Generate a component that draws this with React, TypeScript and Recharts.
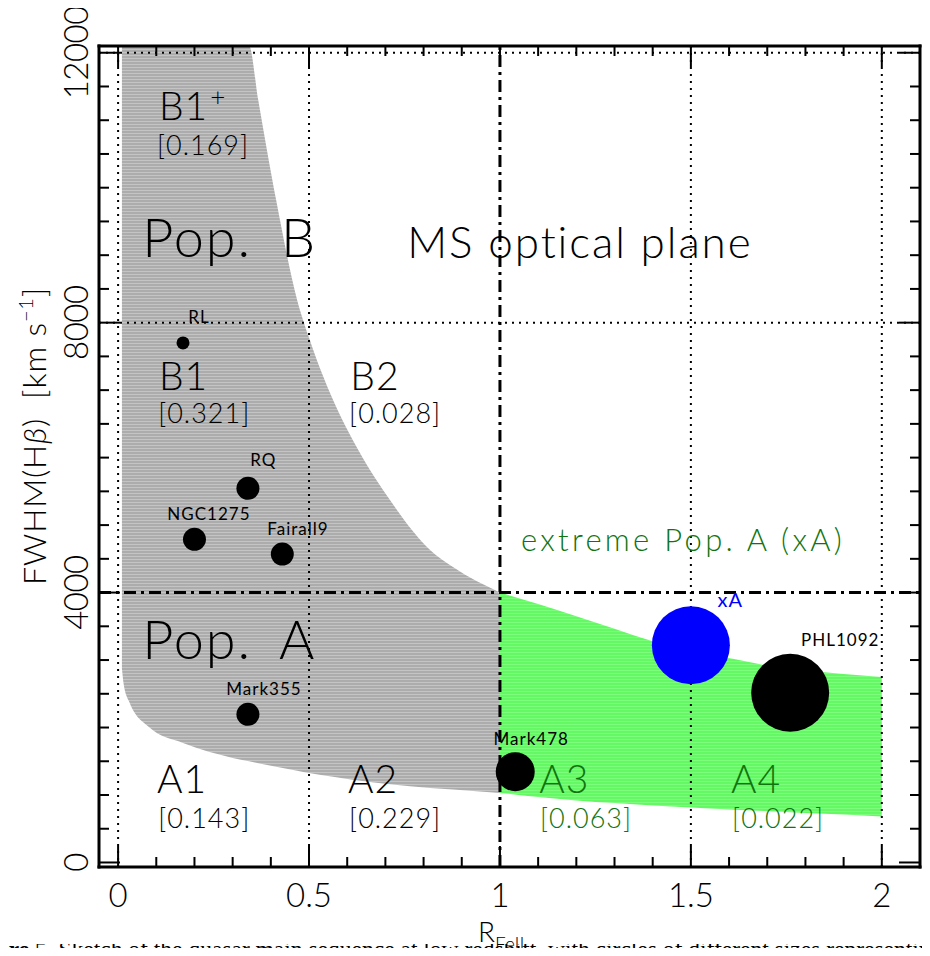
import React from 'react';
import { ComposedChart, Area, Scatter, XAxis, YAxis, ReferenceLine } from 'recharts';

// ---------------- data ----------------
const xTicks = [0, 0.1, 0.2, 0.3, 0.4, 0.5, 0.6, 0.7, 0.8, 0.9, 1, 1.1, 1.2, 1.3, 1.4, 1.5, 1.6, 1.7, 1.8, 1.9, 2];
const xLabelTicks = [0, 0.5, 1, 1.5, 2];
const xTickLabels = ['0', '0.5', '1', '1.5', '2'];
const yTicks = [0, 500, 1000, 1500, 2000, 2500, 3000, 3500, 4000, 4500, 5000, 5500, 6000, 6500, 7000, 7500, 8000, 8500, 9000, 9500, 10000, 10500, 11000, 11500, 12000];
const yLabelTicks = [0, 4000, 8000, 12000];
const yTickLabels = ['0', '4000', '8000', '12000'];

const xDomain = [-0.05, 2.1];
const yDomain = [-67, 12100];

// grey (Pop. B / Pop. A main-sequence) band
const grayX = [0.01, 0.015, 0.03, 0.08, 0.17, 0.3, 0.343, 0.367, 0.414, 0.469, 0.5, 0.563, 0.629, 0.712, 0.817, 0.877, 1.0];
const grayLow = [2880, 2630, 2370, 2010, 1770, 1550, 1500, 1470, 1420, 1360, 1326, 1270, 1215, 1160, 1105, 1080, 1030];
const grayHigh = [12100, 12100, 12100, 12100, 12100, 12100, 12100, 11300, 9815, 8333, 7775, 6852, 6111, 5370, 4630, 4378, 4000];

// green (extreme Pop. A) band
const greenX = [1.0, 1.1, 1.2, 1.3, 1.4, 1.5, 1.6, 1.7, 1.8, 1.9, 2.0];
const greenLow = [1030, 970, 920, 880, 845, 815, 785, 760, 735, 710, 680];
const greenHigh = [4000, 3830, 3650, 3465, 3280, 3140, 3030, 2920, 2845, 2795, 2750];

// sources
const pointNames = ['RL', 'RQ', 'NGC1275', 'Fairall9', 'Mark355', 'Mark478', 'xA', 'PHL1092'];
const pointX = [0.17, 0.34, 0.2, 0.43, 0.34, 1.04, 1.5, 1.76];
const pointY = [7700, 5545, 4790, 4570, 2195, 1345, 3220, 2515];
const pointRadius = [6.5, 11.5, 11.5, 11.5, 11.5, 19.5, 39, 39];
const nameX = [0.212, 0.38, 0.238, 0.471, 0.382, 1.082, 1.603, 1.891];
const nameY = [7993, 5874, 5074, 4852, 2481, 1741, 3785, 3207];

// region annotations
const regionText = ['B1⁺', '[0.169]', 'Pop. B', 'MS optical plane', 'B1', '[0.321]', 'B2', '[0.028]', 'extreme Pop. A (xA)', 'Pop. A', 'A1', '[0.143]', 'A2', '[0.229]', 'A3', '[0.063]', 'A4', '[0.022]'];
const regionX = [0.107, 0.102, 0.063, 0.757, 0.107, 0.105, 0.608, 0.605, 1.055, 0.063, 0.102, 0.105, 0.602, 0.605, 1.103, 1.105, 1.605, 1.608];
const regionY = [11000, 10481, 8970, 8956, 7000, 6511, 7000, 6511, 4615, 3015, 1030, 511, 1030, 511, 1030, 511, 1030, 511];
const regionKind = ['name', 'frac', 'pop', 'title', 'name', 'frac', 'name', 'frac', 'xa', 'pop', 'name', 'frac', 'name', 'frac', 'nameG', 'fracG', 'nameG', 'fracG'];

// ---------------- styles ----------------
const SANS = "Lato, 'DejaVu Sans', sans-serif";
const GREEN_TEXT = '#107510';
const labelStyles: Record<string, any> = {
  name: { fontSize: 39, letterSpacing: 1, wordSpacing: 0, fill: '#000' },
  frac: { fontSize: 27, letterSpacing: 1, wordSpacing: 0, fill: '#000' },
  pop: { fontSize: 54, letterSpacing: 2, wordSpacing: 12, fill: '#000' },
  title: { fontSize: 44, letterSpacing: 1.9, wordSpacing: 0, fill: '#000' },
  xa: { fontSize: 31, letterSpacing: 3.3, wordSpacing: 0, fill: GREEN_TEXT },
  nameG: { fontSize: 39, letterSpacing: 1, wordSpacing: 0, fill: GREEN_TEXT },
  fracG: { fontSize: 27, letterSpacing: 1, wordSpacing: 0, fill: GREEN_TEXT },
};
const pointFill: Record<string, string> = { xA: '#0000ff' };
const nameFill: Record<string, string> = { xA: '#0000ff' };
const nameSize: Record<string, number> = { xA: 20 };

const axisLineStyle = { stroke: '#000', strokeWidth: 3, strokeLinecap: 'square' as const };
const TICK_MAJOR = 21;
const TICK_MINOR = 10;
const tickFont = { fontFamily: SANS, fontSize: 33, fontWeight: 300, fill: '#000' };

const BottomTick = (p: any) => {
  const i = xLabelTicks.indexOf(p.payload.value);
  const len = i >= 0 ? TICK_MAJOR : TICK_MINOR;
  return (
    <g>
      <line x1={p.x} x2={p.x} y1={p.y} y2={p.y - len} stroke="#000" strokeWidth={2} />
      {i >= 0 && (
        <text x={p.x} y={p.y + 40} textAnchor="middle" {...tickFont}>{xTickLabels[i]}</text>
      )}
    </g>
  );
};
const TopTick = (p: any) => {
  const i = xLabelTicks.indexOf(p.payload.value);
  const len = i >= 0 ? TICK_MAJOR : TICK_MINOR;
  return <line x1={p.x} x2={p.x} y1={p.y} y2={p.y + len} stroke="#000" strokeWidth={2} />;
};
const LeftTick = (p: any) => {
  const i = yLabelTicks.indexOf(p.payload.value);
  const len = i >= 0 ? TICK_MAJOR : TICK_MINOR;
  const bx = p.x - 11;
  return (
    <g>
      <line x1={p.x} x2={p.x + len} y1={p.y} y2={p.y} stroke="#000" strokeWidth={2} />
      {i >= 0 && (
        <text transform={`translate(${bx},${p.y}) rotate(-90)`} textAnchor="middle" letterSpacing={-0.5} {...tickFont}>{yTickLabels[i]}</text>
      )}
    </g>
  );
};
const RightTick = (p: any) => {
  const i = yLabelTicks.indexOf(p.payload.value);
  const len = i >= 0 ? TICK_MAJOR : TICK_MINOR;
  return <line x1={p.x} x2={p.x - len} y1={p.y} y2={p.y} stroke="#000" strokeWidth={2} />;
};

const renderCircle = (p: any) => (
  <circle cx={p.cx} cy={p.cy} r={p.payload.r} fill={pointFill[p.payload.name] || '#000'} />
);

const renderName = (p: any) => (
  <text
    x={p.cx}
    y={p.cy}
    textAnchor="middle"
    fontFamily={SANS}
    fontSize={nameSize[p.payload.name] || 17}
    letterSpacing={1}
    fill={nameFill[p.payload.name] || '#000'}
  >
    {p.payload.name}
  </text>
);

const renderRegion = (p: any) => {
  const st = labelStyles[p.payload.kind];
  const t: string = p.payload.text;
  const sup = t.endsWith('⁺');
  return (
    <text
      x={p.cx}
      y={p.cy}
      textAnchor="start"
      fontFamily={SANS}
      fontWeight={300}
      fontSize={st.fontSize}
      letterSpacing={st.letterSpacing}
      wordSpacing={st.wordSpacing}
      fill={st.fill}
    >
      {sup ? t.slice(0, -1) : t}
      {sup && (
        <tspan dy={-14} dx={2} fontSize={26}>+</tspan>
      )}
    </text>
  );
};

const dotted = { stroke: '#000', strokeWidth: 2, strokeDasharray: '2 5' };
const dashDot = { stroke: '#000', strokeWidth: 3, strokeDasharray: '12 5 3 5' };

export default function App() {
  const grayData = grayX.map((x, i) => ({ x, band: [grayLow[i], grayHigh[i]] }));
  const greenData = greenX.map((x, i) => ({ x, band: [greenLow[i], greenHigh[i]] }));
  const pointData = pointNames.map((name, i) => ({ name, x: pointX[i], y: pointY[i], r: pointRadius[i] }));
  const nameData = pointNames.map((name, i) => ({ name, x: nameX[i], y: nameY[i] }));
  const regionData = regionText.map((text, i) => ({ text, x: regionX[i], y: regionY[i], kind: regionKind[i] }));

  const ids = { xAxisId: 'b', yAxisId: 'l' };

  return (
    <div style={{ position: 'relative', width: 922, height: 940 }}>
      <style>{`svg{overflow:visible !important} .recharts-wrapper{overflow:visible !important}`}</style>
      <ComposedChart width={922} height={948} margin={{ top: 0, right: 0, bottom: 0, left: 0 }} data={grayData}>
        <defs>
          <pattern id="grayStripes" patternUnits="userSpaceOnUse" width={8} height={3}>
            <rect width={8} height={3} fill="#acacac" />
            <rect y={2} width={8} height={1} fill="#c4c4c4" />
          </pattern>
          <pattern id="greenStripes" patternUnits="userSpaceOnUse" width={8} height={3}>
            <rect width={8} height={3} fill="#64f864" />
            <rect y={2} width={8} height={1} fill="#7cfd7c" />
          </pattern>
        </defs>
        <XAxis xAxisId="b" dataKey="x" type="number" domain={xDomain} ticks={xTicks} interval={0} allowDataOverflow
          orientation="bottom" height={89} tickSize={0} tickMargin={0} tickLine={false} axisLine={axisLineStyle}
          tick={(p: any) => <BottomTick {...p} />} />
        <XAxis xAxisId="t" dataKey="x" type="number" domain={xDomain} ticks={xTicks} interval={0} allowDataOverflow
          orientation="top" height={38} tickSize={0} tickMargin={0} tickLine={false} axisLine={axisLineStyle}
          tick={(p: any) => <TopTick {...p} />} />
        <YAxis yAxisId="l" type="number" domain={yDomain} ticks={yTicks} interval={0} allowDataOverflow
          orientation="left" width={91} tickSize={0} tickMargin={0} tickLine={false} axisLine={axisLineStyle}
          tick={(p: any) => <LeftTick {...p} />} />
        <YAxis yAxisId="r" type="number" domain={yDomain} ticks={yTicks} interval={0} allowDataOverflow
          orientation="right" width={10} tickSize={0} tickMargin={0} tickLine={false} axisLine={axisLineStyle}
          tick={(p: any) => <RightTick {...p} />} />

        <Area {...ids} data={grayData} dataKey="band" type="monotone" fill="url(#grayStripes)" fillOpacity={1}
          stroke="none" isAnimationActive={false} activeDot={false} dot={false} />
        <Area {...ids} data={greenData} dataKey="band" type="monotone" fill="url(#greenStripes)" fillOpacity={1}
          stroke="none" isAnimationActive={false} activeDot={false} dot={false} />

        <ReferenceLine {...ids} x={0} {...dotted} />
        <ReferenceLine {...ids} x={0.5} {...dotted} />
        <ReferenceLine {...ids} x={1.5} {...dotted} />
        <ReferenceLine {...ids} x={2} {...dotted} />
        <ReferenceLine {...ids} y={8000} {...dotted} />
        <ReferenceLine {...ids} y={12000} {...dotted} />
        <ReferenceLine {...ids} x={1} {...dashDot} />
        <ReferenceLine {...ids} y={4000} {...dashDot} />

        <Scatter {...ids} data={pointData} dataKey="y" shape={renderCircle} isAnimationActive={false} />
        <Scatter {...ids} data={nameData} dataKey="y" shape={renderName} isAnimationActive={false} />
        <Scatter {...ids} data={regionData} dataKey="y" shape={renderRegion} isAnimationActive={false} />

        <text transform="translate(38,428) rotate(-90)" textAnchor="middle" fontFamily={SANS} fontWeight={300}
          fontSize={32} letterSpacing={0.8} fill="#000" style={{ whiteSpace: 'pre' }}>
          FWHM(H<tspan fontStyle="italic">β</tspan>)  [km s<tspan dy={-13} fontSize={20}>−1</tspan><tspan dy={13}>]</tspan>
        </text>
        <text x={470} y={934} fontFamily={SANS} fontWeight={300} fontSize={28} fill="#000">
          R<tspan dy={9} fontSize={19}>FeII</tspan>
        </text>
      </ComposedChart>
      <div style={{ position: 'absolute', left: -8, top: 936, width: 930, height: 12, overflow: 'hidden' }}>
        <div style={{ position: 'absolute', left: -37, top: -5.7, whiteSpace: 'nowrap', fontFamily: "'Liberation Serif', serif", fontSize: 23.5, lineHeight: '23.5px', color: '#000' }}>
          <b>Figure 5.</b> Sketch of the quasar main sequence at low redshift, with circles of different sizes representing the prevalence of each spectral type.
        </div>
      </div>
    </div>
  );
}
